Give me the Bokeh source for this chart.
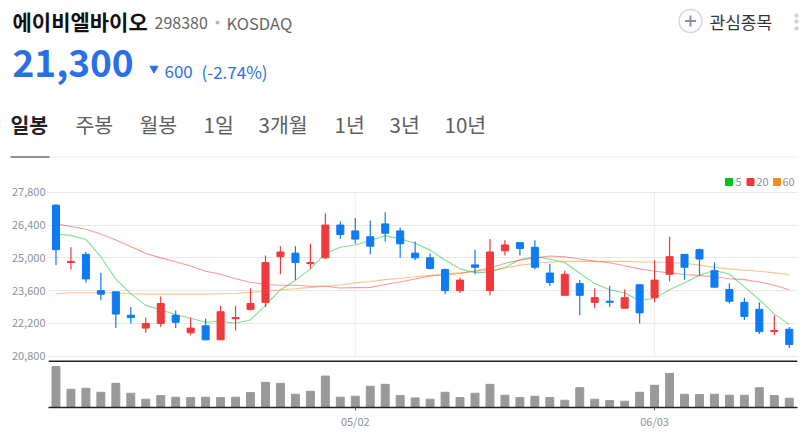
from bokeh.core.properties import value
from bokeh.embed import file_html
from bokeh.layouts import column
from bokeh.models import FixedTicker, NumeralTickFormatter, Range1d, Span
from bokeh.plotting import figure
from bokeh.resources import INLINE

FONT = "Noto Sans CJK KR"
RED = "#ef3a3d"
BLUE = "#0d7bf2"

# daily candles
open_ = [27250, 24800, 25150, 23600, 23550, 22550, 22000, 22200, 22550, 21800,
         22100, 21500, 22400, 22800, 23100, 25050, 25200, 24750, 25000, 26400,
         26150, 25900, 26450, 26150, 25200, 25000, 24500, 23600, 24700, 23600,
         25300, 25650, 25450, 24350, 23400, 23900, 23100, 23150, 22850, 23850,
         23300, 24300, 25150, 25350, 24450, 23650, 23100, 22800, 21850, 21950]
high = [27300, 25450, 25250, 24350, 23550, 22900, 22450, 23350, 22750, 22450,
        22400, 22950, 22950, 23700, 25100, 25500, 25500, 25600, 26900, 26550,
        26700, 26600, 26950, 26300, 25700, 25200, 24550, 24150, 25350, 25800,
        25750, 25650, 25750, 24750, 24450, 24050, 23700, 23800, 23650, 23850,
        24900, 25900, 25150, 25400, 24800, 23900, 23300, 23100, 22550, 22050]
low = [24700, 24500, 23950, 23200, 22000, 22200, 21800, 22050, 22000, 21700,
       21500, 21500, 21900, 22750, 22900, 24300, 24050, 24550, 24950, 25800,
       25600, 25150, 25700, 25000, 24900, 24500, 23450, 23500, 24300, 23400,
       25100, 25100, 24500, 23800, 23400, 22550, 22850, 22900, 22850, 22200,
       23100, 24000, 24050, 24250, 23750, 23050, 22350, 21750, 21700, 21150]
close = [25350, 24850, 24100, 23450, 22600, 22450, 22200, 23050, 22250, 22000,
         21500, 22700, 22450, 23050, 24800, 25250, 24800, 24800, 26400, 26000,
         25800, 25500, 26050, 25600, 25000, 24550, 23600, 24050, 24600, 25250,
         25550, 25400, 24600, 23950, 24300, 23400, 23300, 23100, 23300, 22650,
         24050, 25050, 24600, 24950, 23750, 23150, 22500, 21850, 21900, 21300]

ma5 = [26020, 25960, 25780, 25050, 24090, 23470, 22970, 22780, 22570, 22420,
       22250, 22290, 22210, 22350, 22970, 23640, 24040, 24520, 25190, 25450,
       25550, 25740, 25950, 25810, 25620, 25330, 24900, 24530, 24370, 24390,
       24590, 24930, 25050, 24950, 24800, 24340, 23900, 23640, 23500, 23180,
       23270, 23640, 23940, 24260, 24470, 24300, 23760, 23210, 22610, 22150]
ma20 = [26450, 26340, 26220, 26020, 25760, 25480, 25190, 25000, 24830, 24650,
        24430, 24300, 24110, 23960, 23860, 23830, 23830, 23790, 23790, 23710,
        23730, 23740, 23860, 23970, 24100, 24230, 24270, 24330, 24440, 24560,
        24770, 24900, 25000, 25080, 25050, 24950, 24860, 24790, 24660, 24530,
        24430, 24360, 24290, 24240, 24190, 24110, 24070, 23970, 23830, 23640]
ma60 = [23470, 23510, 23510, 23510, 23500, 23470, 23450, 23450, 23450, 23450,
        23450, 23470, 23480, 23530, 23570, 23640, 23680, 23740, 23790, 23840,
        23930, 23990, 24070, 24130, 24190, 24260, 24320, 24360, 24430, 24470,
        24570, 24690, 24760, 24820, 24850, 24850, 24850, 24850, 24850, 24830,
        24820, 24800, 24770, 24690, 24600, 24530, 24470, 24430, 24360, 24290]

volume = [1240, 550, 580, 460, 730, 430, 250, 360, 310, 300,
          310, 300, 310, 450, 760, 730, 400, 490, 950, 310,
          340, 640, 700, 360, 290, 250, 460, 300, 430, 700,
          370, 300, 340, 300, 220, 600, 250, 210, 190, 460,
          670, 1030, 400, 390, 400, 370, 370, 600, 360, 280]

price_ticks = [20800, 22200, 23600, 25000, 26400, 27800]
date_labels = {20: "05/02", 40: "06/03"}

ma_series = [("5", ma5, "#00c31e"), ("20", ma20, "#f8353c"), ("60", ma60, "#f98a1c")]

xs = list(range(len(close)))
candle_colors = [RED if c >= o else BLUE for o, c in zip(open_, close)]
body_top = [max(o, c) for o, c in zip(open_, close)]
body_bottom = [min(o, c) for o, c in zip(open_, close)]
PANEL_W = 800

# header: page pixels as coordinates
head = figure(width=PANEL_W, height=170, x_range=Range1d(0, PANEL_W), y_range=Range1d(170, 0),
              output_backend="svg", toolbar_location=None, min_border=0,
              min_border_left=0, min_border_right=0, min_border_top=0, min_border_bottom=0)
head.axis.visible = False
head.grid.visible = False
head.outline_line_color = None


def put(x, y, text, size, color, style="normal", align="left"):
    head.text([x], [y], text=[text], text_font=value(FONT), text_font_size=f"{size}px",
              text_color=color, text_font_style=style, text_align=align, text_baseline="middle")


put(12, 20, "에이비엘바이오", 21, "#111111", "bold")
put(154, 22, "298380", 16, "#666666")
put(226, 22, "KOSDAQ", 16.5, "#666666")
head.scatter([217], [22], size=3, color="#b0b0b0")
put(12, 63, "21,300", 37, "#2a6fe8", "bold")
head.scatter([153.5], [68], marker="inverted_triangle", size=8, color="#2a6fe8")
put(164, 70.5, "600", 17, "#2a6fe8")
put(201, 70.5, "(-2.74%)", 17, "#2a6fe8")

tabs = [("일봉", 10), ("주봉", 75), ("월봉", 139), ("1일", 203), ("3개월", 258),
        ("1년", 334), ("3년", 389), ("10년", 444)]
for i, (name, x) in enumerate(tabs):
    put(x, 123.5, name, 20.5, "#222222" if i == 0 else "#5f5f5f", "bold" if i == 0 else "normal")
head.line([49, 797], [156.5, 156.5], color="#eeeeee", line_width=1)
head.line([10, 49], [156.5, 156.5], color="#222222", line_width=1)

head.scatter([690], [20.5], size=23, fill_color="white", line_color="#d5d8e0", line_width=1.5)
head.scatter([690], [20.5], marker="cross", size=11, line_color="#8a93a5", line_width=2)
put(709, 21, "관심종목", 17, "#333333")
head.scatter([796, 796, 796], [15, 21, 28], size=3.5, color="#d0d3da")

# price and volume share one frame, volume on its own y range under the black rule
chart = figure(width=PANEL_W, height=261, x_range=Range1d(-0.5, 49.55), y_range=Range1d(18610, 28730),
               output_backend="svg", toolbar_location=None,
               min_border_left=48, min_border_right=3, min_border_top=0, min_border_bottom=0)
chart.extra_y_ranges["vol"] = Range1d(0, 7161)
chart.extra_x_ranges["page"] = Range1d(48, 797)
chart.extra_y_ranges["page"] = Range1d(407, 170)
chart.outline_line_color = None
chart.xgrid.visible = False

chart.yaxis.ticker = FixedTicker(ticks=price_ticks)
chart.yaxis.formatter = NumeralTickFormatter(format="0,0")
chart.yaxis.axis_line_color = None
chart.yaxis.major_tick_line_color = None
chart.yaxis.minor_tick_line_color = None
chart.yaxis.major_tick_in = 0
chart.yaxis.major_tick_out = 0
chart.yaxis.major_label_standoff = 3
chart.yaxis.major_label_text_font = FONT
chart.yaxis.major_label_text_font_size = "11px"
chart.yaxis.major_label_text_color = "#8c929c"
chart.ygrid.ticker = FixedTicker(ticks=price_ticks)
chart.ygrid.grid_line_color = "#e8e8e8"

date_xs = list(date_labels)
chart.segment(date_xs, [price_ticks[0]] * len(date_xs), date_xs, [price_ticks[-1]] * len(date_xs),
              color="#eeeeee", line_width=1)

for name, values, color in ma_series:
    chart.line(xs, values, color=color, line_width=1.1, line_alpha=0.5)

chart.segment(xs, low, xs, high, color=candle_colors, line_width=1.2)
chart.vbar(x=xs, top=body_top, bottom=body_bottom, width=0.47, fill_color=candle_colors,
           line_color=candle_colors, line_width=1)
chart.add_layout(Span(location=20590, dimension="width", line_color="#222222", line_width=1.5))

chart.vbar(x=xs, top=volume, width=0.53, color="#999999", y_range_name="vol")

# legend in page pixels, top right of the panel
for (name, values, color), sq_x, txt_x in zip(ma_series, [728.5, 750, 776.5], [735, 756, 782]):
    chart.scatter([sq_x], [181.5], marker="square", size=7, color=color,
                  x_range_name="page", y_range_name="page")
    chart.text([txt_x], [181.5], text=[name], text_font=value(FONT), text_font_size="11px",
               text_color="#8c929c", text_baseline="middle",
               x_range_name="page", y_range_name="page")

chart.xaxis.ticker = FixedTicker(ticks=date_xs)
chart.xaxis.major_label_overrides = date_labels
chart.xaxis.axis_line_color = "#222222"
chart.xaxis.axis_line_width = 1.5
chart.xaxis.major_tick_line_color = "#555555"
chart.xaxis.major_tick_in = 0
chart.xaxis.major_tick_out = 3
chart.xaxis.minor_tick_line_color = None
chart.xaxis.major_label_standoff = 2
chart.xaxis.major_label_text_font = FONT
chart.xaxis.major_label_text_font_size = "11px"
chart.xaxis.major_label_text_color = "#8c929c"

page = column(head, column(chart, spacing=0), spacing=0)
open("out.html", "w").write(file_html(page, INLINE))
